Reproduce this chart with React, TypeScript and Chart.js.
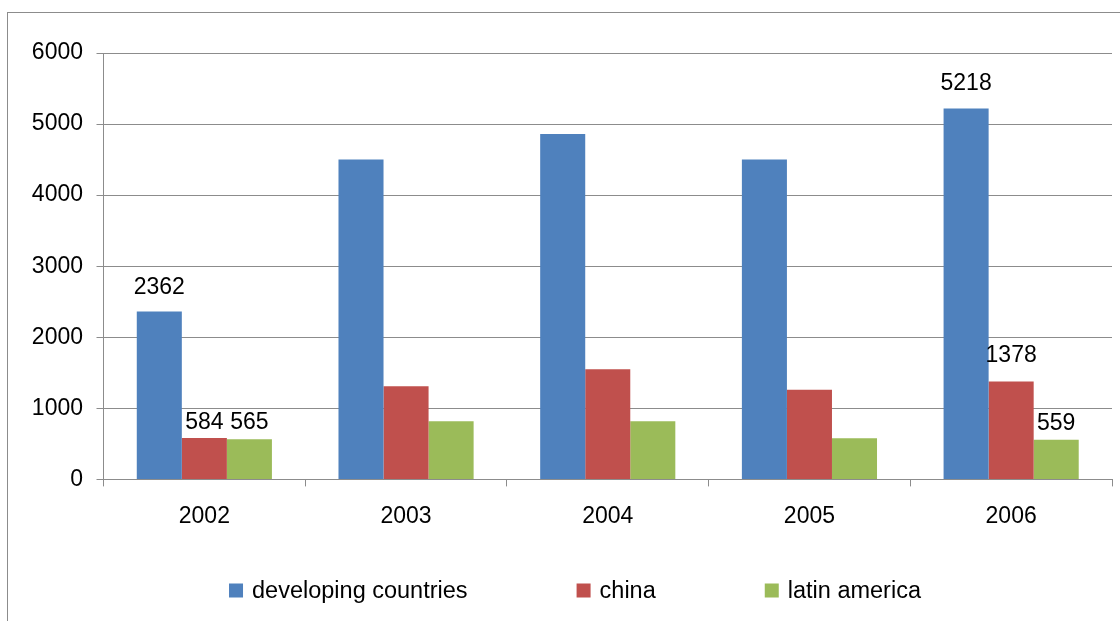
import React, { useEffect, useRef } from 'react';
import { Chart, registerables } from 'chart.js';

Chart.register(...registerables);

// ---- data ----
const years = ['2002', '2003', '2004', '2005', '2006'];
const developingCountries = [2362, 4500, 4860, 4500, 5218];
const china = [584, 1310, 1550, 1260, 1378];
const latinAmerica = [565, 820, 820, 580, 559];
const yTickValues = [0, 1000, 2000, 3000, 4000, 5000, 6000];
const labelledYears = ['2002', '2006'];

// ---- styling ----
const FONT_FAMILY = '"Liberation Sans", Arial, Helvetica, sans-serif';
const FONT_SIZE = 23;
const LEGEND_FONT_SIZE = 23.5;
const AXIS_GREY = '#8c8c8c';
const seriesColors = ['#4F81BD', '#C0504D', '#9BBB59'];
// distance (px) between each bar top and its value label baseline, per series, per labelled year
const labelLift = [
  [18, 19],
  [9, 19],
  [10, 10],
];

const CANVAS_W = 1134;
const CANVAS_H = 640;

const valueLabels = {
  id: 'valueLabels',
  afterDatasetsDraw(chart: any) {
    const ctx = chart.ctx;
    ctx.save();
    ctx.font = `${FONT_SIZE}px ${FONT_FAMILY}`;
    ctx.fillStyle = '#000';
    ctx.textAlign = 'center';
    ctx.textBaseline = 'alphabetic';
    chart.data.datasets.forEach((ds: any, di: number) => {
      const meta = chart.getDatasetMeta(di);
      labelledYears.forEach((yr, k) => {
        const idx = chart.data.labels.indexOf(yr);
        const bar = meta.data[idx];
        if (!bar) return;
        ctx.fillText(String(ds.data[idx]), bar.x, bar.y - labelLift[di][k]);
      });
    });
    ctx.restore();
  },
};

const bottomLegend = {
  id: 'bottomLegend',
  afterDraw(chart: any) {
    const ctx = chart.ctx;
    const box = 14;
    const textGap = 9;
    const itemGap = 109;
    const baseline = 584.5;
    ctx.save();
    ctx.font = `${LEGEND_FONT_SIZE}px ${FONT_FAMILY}`;
    ctx.textBaseline = 'alphabetic';
    ctx.textAlign = 'left';
    const items = chart.data.datasets.map((ds: any) => ({
      text: ds.label,
      color: ds.backgroundColor,
      w: ctx.measureText(ds.label).width,
    }));
    const total =
      items.reduce((s: number, it: any) => s + box + textGap + it.w, 0) +
      itemGap * (items.length - 1);
    let x = chart.width / 2 - total / 2;
    items.forEach((it: any) => {
      ctx.fillStyle = it.color;
      ctx.fillRect(x, baseline - box, box, box);
      ctx.fillStyle = '#000';
      ctx.fillText(it.text, x + box + textGap, baseline);
      x += box + textGap + it.w + itemGap;
    });
    ctx.restore();
  },
};

export default function App() {
  const canvasRef = useRef<HTMLCanvasElement | null>(null);

  useEffect(() => {
    if (!canvasRef.current) return;
    const font = { family: FONT_FAMILY, size: FONT_SIZE };
    const chart = new Chart(canvasRef.current, {
      type: 'bar',
      data: {
        labels: years,
        datasets: [
          { label: 'developing countries', data: developingCountries, backgroundColor: seriesColors[0] },
          { label: 'china', data: china, backgroundColor: seriesColors[1] },
          { label: 'latin america', data: latinAmerica, backgroundColor: seriesColors[2] },
        ],
      },
      options: {
        responsive: false,
        animation: false,
        devicePixelRatio: 1,
        layout: { padding: { top: 40, right: 30, bottom: 107, left: 0 } },
        datasets: {
          bar: { categoryPercentage: 0.67, barPercentage: 1.0, borderWidth: 0 },
        },
        plugins: {
          legend: { display: false },
          tooltip: { enabled: false },
          title: { display: false },
        },
        scales: {
          x: {
            offset: true,
            grid: {
              offset: true,
              drawOnChartArea: false,
              drawTicks: true,
              tickLength: 7,
              color: AXIS_GREY,
            },
            border: { display: true, color: AXIS_GREY },
            ticks: { color: '#000', font, padding: 16, maxRotation: 0 },
          },
          y: {
            min: 0,
            max: 6000,
            afterBuildTicks: (scale: any) => {
              scale.ticks = yTickValues.map((v) => ({ value: v }));
            },
            afterFit: (scale: any) => {
              scale.width = 95.5;
            },
            grid: { color: AXIS_GREY, drawTicks: true, tickLength: 7 },
            border: { display: true, color: AXIS_GREY },
            ticks: {
              color: '#000',
              font,
              padding: 13.5,
              callback: (v: any) => String(v),
            },
          },
        },
      },
      plugins: [valueLabels, bottomLegend],
    });
    return () => chart.destroy();
  }, []);

  return (
    <div style={{ position: 'fixed', inset: 0, overflow: 'hidden', background: '#fff' }}>
      <div
        style={{
          position: 'absolute',
          left: 7,
          top: 12,
          width: CANVAS_W,
          height: CANVAS_H,
          border: `1px solid ${AXIS_GREY}`,
        }}
      >
        <canvas ref={canvasRef} width={CANVAS_W} height={CANVAS_H} style={{ display: 'block' }} />
      </div>
    </div>
  );
}
